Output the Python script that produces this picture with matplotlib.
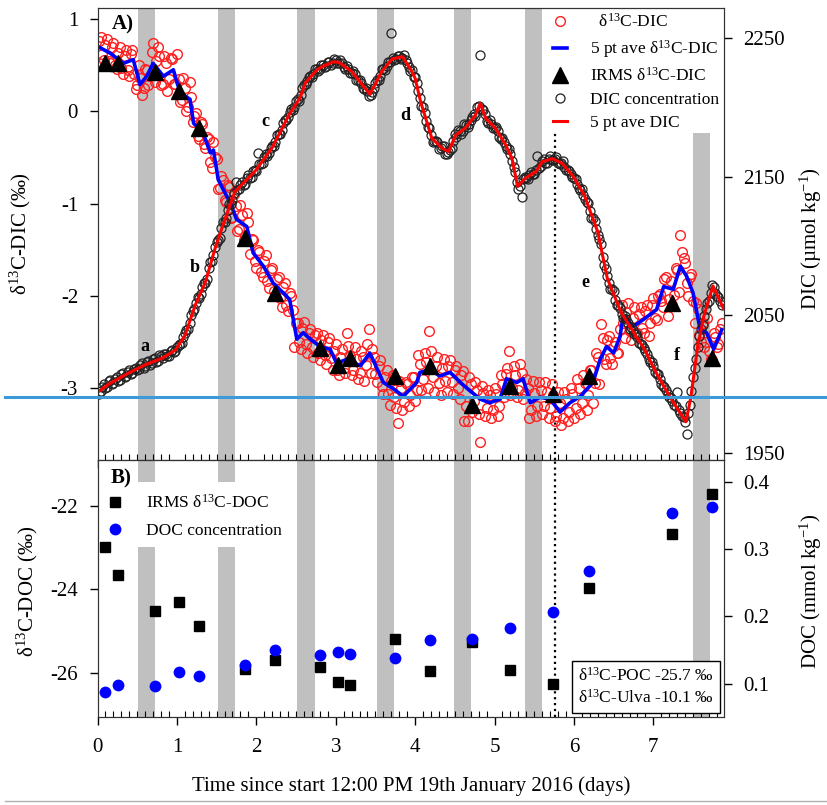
import numpy as np
import matplotlib
matplotlib.use("Agg")
import matplotlib.pyplot as plt
from matplotlib.lines import Line2D
from matplotlib.ticker import MultipleLocator

plt.rcParams["font.family"] = "Liberation Serif"
plt.rcParams["mathtext.fontset"] = "custom"
plt.rcParams["mathtext.rm"] = "Liberation Serif"
plt.rcParams["mathtext.it"] = "Liberation Serif:italic"
plt.rcParams["mathtext.bf"] = "Liberation Serif:bold"
plt.rcParams["axes.unicode_minus"] = False
plt.rcParams["axes.edgecolor"] = "#333333"

# night periods (days since start)
night_start = [0.506, 1.515, 2.517, 3.52, 4.494, 5.384, 7.504]
night_end = [0.724, 1.732, 2.739, 3.738, 4.704, 5.594, 7.714]
t_sample = 5.755

# continuous sensor record: readings at 0.02, 0.06, 0.10 ... d
dic_conc = [1993, 1998, 1997, 2002, 2000, 2004, 2002, 2007, 2005, 2009,
            2007, 2011, 2010, 2014, 2012, 2016, 2014, 2018, 2016, 2021,
            2019, 2022, 2020, 2025, 2024, 2028, 2030, 2037, 2040, 2050,
            2054, 2063, 2065, 2073, 2076, 2088, 2093, 2103, 2106, 2117,
            2120, 2130, 2133, 2146, 2141, 2146, 2145, 2151, 2150, 2155,
            2167, 2159, 2164, 2165, 2171, 2172, 2180, 2181, 2189, 2191,
            2197, 2198, 2205, 2205, 2214, 2217, 2222, 2222, 2228, 2226,
            2231, 2229, 2233, 2231, 2235, 2232, 2234, 2229, 2230, 2225,
            2226, 2220, 2220, 2214, 2214, 2208, 2211, 2218, 2220, 2228,
            2227, 2233, 2254, 2234, 2237, 2235, 2238, 2232, 2226, 2222,
            2218, 2207, 2200, 2190, 2185, 2175, 2176, 2170, 2172, 2166,
            2168, 2171, 2181, 2184, 2181, 2188, 2186, 2191, 2195, 2200,
            2238, 2198, 2190, 2191, 2185, 2186, 2179, 2178, 2172, 2170,
            2161, 2153, 2141, 2135, 2150, 2148, 2153, 2152, 2165, 2158,
            2163, 2160, 2165, 2162, 2164, 2159, 2161, 2155, 2154, 2150,
            2148, 2142, 2141, 2134, 2131, 2120, 2118, 2108, 2101, 2086,
            2078, 2069, 2067, 2057, 2055, 2048, 2047, 2040, 2039, 2036,
            2030, 2028, 2024, 2018, 2016, 2009, 2007, 2000, 1998, 1993,
            1990, 1985, 1994, 1979, 1976, 1964, 1985, 2005, 2018, 2035,
            2043, 2054, 2060, 2072, 2066, 2063, 2057]

d13c_dic = [0.76, 0.62, 0.72, 0.55, 0.70, 0.50, 0.63, 0.47, 0.60, 0.45,
            0.62, 0.40, 0.28, 0.36, 0.25, 0.45, 0.38, 0.74, 0.55, 0.60,
            0.30, 0.52, 0.35, 0.57, 0.30, 0.35, 0.12, 0.25, 0.05, 0.15,
            -0.05, -0.27, -0.12, -0.36, -0.28, -0.55, -0.33, -0.52, -0.83, -0.75,
            -0.98, -0.82, -1.15, -1.03, -1.28, -1.12, -1.35, -1.20, -1.38, -1.62,
            -1.50, -1.74, -1.62, -1.84, -1.72, -1.95, -1.82, -2.02, -1.90, -2.10,
            -1.97, -2.15, -2.30, -2.50, -2.35, -2.52, -2.40, -2.56, -2.43, -2.62,
            -2.48, -2.64, -2.50, -2.67, -2.60, -2.80, -2.66, -2.78, -2.40, -2.65,
            -2.80, -2.68, -2.84, -2.66, -2.75, -2.36, -2.58, -2.85, -2.76, -2.98,
            -2.88, -3.06, -2.92, -3.10, -3.38, -3.00, -3.15, -2.96, -3.08, -2.88,
            -3.02, -2.74, -2.90, -2.72, -2.38, -2.88, -2.76, -2.95, -2.78, -2.92,
            -2.76, -2.94, -2.80, -3.00, -2.86, -3.36, -3.36, -2.96, -3.14, -3.02,
            -3.59, -3.05, -3.22, -3.08, -3.24, -3.06, -3.20, -2.96, -2.85, -2.60,
            -3.00, -2.86, -3.02, -2.84, -3.05, -3.00, -3.24, -3.05, -3.20, -3.02,
            -3.20, -3.04, -3.22, -3.08, -3.30, -3.16, -3.32, -3.12, -3.26, -3.06,
            -3.22, -3.00, -3.16, -2.95, -3.08, -2.80, -2.95, -2.66, -2.31, -2.68,
            -2.48, -2.67, -2.54, -2.62, -2.36, -2.30, -2.18, -2.38, -2.24, -2.40,
            -2.20, -2.35, -2.16, -2.44, -2.10, -2.24, -2.00, -2.06, -1.82, -2.22,
            -1.84, -1.99, -1.72, -1.34, -1.59, -1.86, -1.80, -2.06, -2.08, -2.42,
            -2.30, -2.50, -2.60, -2.70, -2.45, -2.52, -2.30]

# interleaved readings at 0.04, 0.08, 0.12 ... d
dic_conc_2 = [1995, 2000, 1998, 2003, 2001, 2005, 2003, 2008, 2006, 2010,
              2008, 2012, 2011, 2015, 2013, 2017, 2015, 2019, 2017, 2020,
              2022, 2020, 2024, 2023, 2027, 2029, 2034, 2039, 2044, 2053,
              2059, 2062, 2070, 2073, 2084, 2089, 2099, 2104, 2113, 2117,
              2126, 2130, 2138, 2140, 2144, 2144, 2149, 2149, 2154, 2154,
              2159, 2160, 2166, 2167, 2172, 2175, 2181, 2184, 2191, 2193,
              2199, 2200, 2206, 2209, 2216, 2219, 2223, 2224, 2228, 2228,
              2231, 2230, 2233, 2232, 2234, 2232, 2232, 2228, 2228, 2225,
              2224, 2220, 2218, 2213, 2212, 2209, 2214, 2220, 2223, 2228,
              2230, 2233, 2236, 2235, 2237, 2236, 2234, 2229, 2227, 2222,
              2212, 2201, 2196, 2186, 2180, 2176, 2175, 2171, 2172, 2166,
              2169, 2176, 2179, 2183, 2183, 2187, 2188, 2193, 2194, 2201,
              2199, 2195, 2189, 2188, 2185, 2183, 2177, 2175, 2170, 2166,
              2157, 2146, 2143, 2148, 2149, 2151, 2152, 2155, 2156, 2161,
              2160, 2163, 2162, 2163, 2160, 2160, 2157, 2155, 2152, 2149,
              2145, 2140, 2137, 2132, 2125, 2120, 2112, 2105, 2092, 2083,
              2073, 2069, 2061, 2057, 2051, 2049, 2044, 2041, 2036, 2034,
              2029, 2026, 2022, 2016, 2013, 2007, 2004, 1999, 1996, 1991,
              1988, 1984, 1981, 1977, 1973, 1979, 1995, 2012, 2027, 2040,
              2049, 2059, 2066, 2070, 2064, 2060]

d13c_dic_2 = [0.80, 0.56, 0.78, 0.52, 0.74, 0.46, 0.70, 0.40, 0.66, 0.38,
              0.66, 0.24, 0.50, 0.18, 0.46, 0.28, 0.64, 0.32, 0.70, 0.28,
              0.60, 0.22, 0.58, 0.30, 0.62, 0.10, 0.36, 0.00, 0.32, -0.12,
              -0.02, -0.30, -0.14, -0.40, -0.30, -0.62, -0.50, -0.84, -0.70, -0.96,
              -0.80, -1.16, -0.90, -1.30, -1.02, -1.40, -1.10, -1.55, -1.40, -1.70,
              -1.52, -1.80, -1.56, -1.92, -1.70, -2.00, -1.80, -2.12, -1.86, -2.16,
              -2.00, -2.55, -2.30, -2.58, -2.28, -2.62, -2.36, -2.66, -2.40, -2.70,
              -2.42, -2.74, -2.46, -2.80, -2.52, -2.86, -2.58, -2.84, -2.54, -2.86,
              -2.56, -2.90, -2.60, -2.92, -2.52, -2.84, -2.66, -2.94, -2.70, -3.06,
              -2.80, -3.18, -2.86, -3.22, -2.92, -3.24, -2.94, -3.20, -2.88, -3.14,
              -2.64, -3.02, -2.62, -3.00, -2.60, -3.04, -2.66, -3.08, -2.68, -3.04,
              -2.70, -3.06, -2.76, -3.12, -2.82, -3.20, -2.88, -3.26, -2.94, -3.28,
              -2.98, -3.30, -3.02, -3.32, -3.00, -3.30, -2.86, -3.10, -2.78, -3.08,
              -2.76, -3.10, -2.74, -3.12, -2.90, -3.32, -2.92, -3.30, -2.94, -3.28,
              -2.94, -3.32, -2.96, -3.36, -3.04, -3.40, -3.04, -3.36, -3.00, -3.32,
              -2.90, -3.28, -2.86, -3.24, -2.80, -3.16, -2.62, -2.96, -2.46, -2.74,
              -2.44, -2.74, -2.50, -2.62, -2.10, -2.46, -2.08, -2.48, -2.12, -2.40,
              -2.12, -2.40, -2.10, -2.30, -2.02, -2.26, -1.98, -2.12, -1.80, -2.04,
              -2.10, -1.70, -1.96, -1.52, -1.64, -2.00, -1.76, -2.30, -2.14, -2.50,
              -2.56, -2.24, -2.68, -2.40, -2.56, -2.36]

t_dic = np.concatenate([0.02 + 0.04 * np.arange(len(dic_conc)),
                        0.04 + 0.04 * np.arange(len(dic_conc_2))])
dic_all = np.concatenate([dic_conc, dic_conc_2])
d13c_all = np.concatenate([d13c_dic, d13c_dic_2])

# 5 point running averages
t_d13c_ave = [0.03, 0.16, 0.325, 0.45, 0.535, 0.62, 0.70, 0.83, 0.955, 1.04,
              1.165, 1.21, 1.33, 1.42, 1.46, 1.52, 1.585, 1.67, 1.75, 1.88,
              1.96, 2.09, 2.21, 2.34, 2.42, 2.51, 2.59, 2.68, 2.80, 2.93,
              3.01, 3.14, 3.31, 3.43, 3.60, 3.73, 3.85, 4.02, 4.06, 4.19,
              4.31, 4.44, 4.57, 4.69, 4.82, 4.94, 5.07, 5.15, 5.28, 5.36,
              5.45, 5.57, 5.70, 5.825, 5.95, 6.08, 6.24, 6.33, 6.41, 6.50,
              6.58, 6.62, 6.75, 6.87, 7.04, 7.13, 7.25, 7.34, 7.42, 7.50,
              7.59, 7.67, 7.76, 7.86]
d13c_ave = [0.69, 0.63, 0.52, 0.56, 0.29, 0.38, 0.52, 0.38, 0.45, 0.20,
            0.13, -0.13, -0.235, -0.45, -0.42, -0.74, -0.85, -0.99, -1.17, -1.25,
            -1.535, -1.68, -1.86, -1.97, -2.04, -2.47, -2.40, -2.47, -2.55, -2.58,
            -2.73, -2.69, -2.76, -2.62, -2.94, -3.01, -3.09, -2.94, -2.83, -2.80,
            -2.87, -2.83, -2.94, -3.03, -3.12, -3.16, -3.12, -2.90, -2.94, -2.90,
            -3.16, -3.10, -3.12, -3.26, -3.16, -3.09, -2.94, -2.69, -2.55, -2.62,
            -2.44, -2.22, -2.33, -2.26, -2.15, -1.90, -1.93, -1.68, -1.79, -1.97,
            -2.37, -2.40, -2.58, -2.37]

t_dic_ave = [0.0, 0.14, 0.39, 0.60, 0.81, 0.98, 1.10, 1.23, 1.36, 1.48,
             1.61, 1.73, 1.90, 2.00, 2.20, 2.41, 2.55, 2.62, 2.76, 2.83,
             2.97, 3.04, 3.20, 3.43, 3.58, 3.71, 3.84, 3.96, 4.00, 4.07,
             4.21, 4.34, 4.42, 4.51, 4.63, 4.76, 4.82, 4.89, 5.01, 5.14,
             5.22, 5.29, 5.39, 5.52, 5.60, 5.73, 5.85, 5.98, 6.13, 6.30,
             6.42, 6.59, 6.72, 6.88, 7.05, 7.22, 7.30, 7.41, 7.47, 7.56,
             7.64, 7.75, 7.88]
dic_ave = [1994, 2000, 2008, 2014, 2018.6, 2024.6, 2035, 2057, 2074, 2098,
           2120, 2139, 2149, 2155, 2171, 2194.5, 2207, 2218, 2227, 2229.5,
           2233, 2232.6, 2226, 2209.5, 2226, 2235, 2236.7, 2226, 2221, 2204,
           2177.7, 2170.5, 2168, 2180, 2185, 2194.5, 2203, 2192, 2185, 2173,
           2163, 2143, 2149, 2153.5, 2160.8, 2163, 2159.6, 2151, 2136.7, 2110,
           2076.5, 2052.3, 2040.3, 2026, 2006.7, 1989.7, 1982.5, 1972.8, 1989.7, 2028,
           2050, 2071, 2055]

# discrete bottle samples
t_irms = [0.10, 0.26, 0.72, 1.02, 1.28, 1.86, 2.24, 2.80, 3.03, 3.18,
          3.75, 4.19, 4.71, 5.20, 5.74, 6.19, 7.23, 7.74]
d13c_dic_irms = [0.52, 0.52, 0.43, 0.22, -0.18, -1.37, -1.97, -2.57, -2.75, -2.67,
                 -2.87, -2.76, -3.18, -2.98, -3.07, -2.87, -2.08, -2.67]
d13c_doc = [-22.98, -23.66, -24.52, -24.31, -24.88, -25.92, -25.70, -25.86, -26.24, -26.30,
            -25.19, -25.97, -25.26, -25.94, -26.28, -23.98, -22.68, -21.71]
doc_conc = [0.088, 0.098, 0.097, 0.117, 0.112, 0.128, 0.151, 0.143, 0.148, 0.145,
            0.139, 0.165, 0.167, 0.183, 0.207, 0.268, 0.354, 0.363]

shade = "#c0c0c0"

fig = plt.figure(figsize=(8.27, 8.05), dpi=100)
axA = fig.add_axes([0.1179, 0.4286, 0.7576, 0.5615])
axB = fig.add_axes([0.1179, 0.1093, 0.7576, 0.3193])
axA2 = axA.twinx()
axB2 = axB.twinx()

yA = (-3.78, 1.12)
yB = (-27.07, -20.89)

# ---- panel A ----
for i, (x0, x1) in enumerate(zip(night_start, night_end)):
    top = -0.23 if i == 6 else yA[1]
    axA.fill_between([x0, x1], yA[0], top, color=shade, lw=0, zorder=0)
axA.plot([t_sample, t_sample], [yA[0], -0.22], ls=":", color="black", lw=1.6, zorder=1)

h1, = axA.plot(t_dic, d13c_all, "o", ms=7, mfc="none", mec="#ff2020", mew=1.0, zorder=2)
h2, = axA.plot(t_d13c_ave, d13c_ave, color="#0000ff", lw=2.6, zorder=3)
h3, = axA.plot(t_irms, d13c_dic_irms, "^", ms=11, color="black", zorder=4)
h4, = axA2.plot(t_dic, dic_all, "o", ms=6.5, mfc="none", mec="#222222", mew=0.9)
h5, = axA2.plot(t_dic_ave, dic_ave, color="#ff0000", lw=2.2)

axA.set_ylim(*yA)
axA2.set_ylim(1945.2, 2271.9)
axA.set_yticks([-3, -2, -1, 0, 1])
axA2.set_yticks([1950, 2050, 2150, 2250])

axA.text(0.32, 0.94, "A)", fontsize=15, fontweight="bold", ha="center", va="center")
for lab, x, y in [("a", 0.60, -2.55), ("b", 1.23, -1.69), ("c", 2.11, -0.11),
                  ("d", 3.87, -0.05), ("e", 6.14, -1.86), ("f", 7.29, -2.65)]:
    axA.text(x, y, lab, fontsize=13, fontweight="bold", ha="center", va="center")

axA2.legend([h1, h2, h3, h4, h5],
            ["  δ$^{13}$C-DIC", "5 pt ave δ$^{13}$C-DIC", "IRMS δ$^{13}$C-DIC",
             "DIC concentration", "5 pt ave DIC"],
            loc="upper right", frameon=False, fontsize=12.5, handlelength=0.8,
            handletextpad=1.3, labelspacing=0.4, borderaxespad=0.2, borderpad=0.1,
            numpoints=1)

axA.set_ylabel("δ$^{13}$C-DIC (‰)", fontsize=15)
axA.yaxis.set_label_coords(-0.103, 0.5)
axA2.set_ylabel("DIC (µmol kg$^{-1}$)", fontsize=15)
axA2.yaxis.set_label_coords(1.118, 0.49)

# ---- panel B ----
for i, (x0, x1) in enumerate(zip(night_start, night_end)):
    if i < 2:
        axB.fill_between([x0, x1], -21.42, yB[1], color=shade, lw=0, zorder=0)
        axB.fill_between([x0, x1], yB[0], -22.98, color=shade, lw=0, zorder=0)
    else:
        axB.fill_between([x0, x1], yB[0], yB[1], color=shade, lw=0, zorder=0)
axB.plot([t_sample, t_sample], list(yB), ls=":", color="black", lw=1.6, zorder=1)

g1, = axB.plot(t_irms, d13c_doc, "s", ms=7.5, color="black", zorder=3)
g2, = axB2.plot(t_irms, doc_conc, "o", ms=8.5, color="#0000ff", mec="none")

axB.set_ylim(*yB)
axB2.set_ylim(0.051, 0.432)
axB.set_yticks([-26, -24, -22])
axB2.set_yticks([0.1, 0.2, 0.3, 0.4])

axB.text(0.30, -21.33, "B)", fontsize=15, fontweight="bold", ha="center", va="center")
axB2.legend([g1, g2], ["IRMS δ$^{13}$C-DOC", "DOC concentration"],
            loc="upper left", bbox_to_anchor=(0.014, 0.875), frameon=False,
            fontsize=12.5, handlelength=0.8, handletextpad=1.4, labelspacing=0.65,
            borderaxespad=0, borderpad=0.1, numpoints=1)
axB2.text(0.984, 0.04, "δ$^{13}$C-POC -25.7 ‰\nδ$^{13}$C-Ulva -10.1 ‰",
          transform=axB2.transAxes, ha="right", va="bottom", fontsize=12.5,
          linespacing=1.3, zorder=10,
          bbox=dict(boxstyle="square,pad=0.35", fc="white", ec="black", lw=1))

axB.set_ylabel("δ$^{13}$C-DOC (‰)", fontsize=15)
axB.yaxis.set_label_coords(-0.092, 0.49)
axB2.set_ylabel("DOC (mmol kg$^{-1}$)", fontsize=15)
axB2.yaxis.set_label_coords(1.117, 0.49)
axB.set_xlabel("Time since start 12:00 PM 19th January 2016 (days)", fontsize=15, labelpad=14)

# ---- shared axis styling ----
for ax in (axA, axB):
    ax.set_xlim(0, 7.89)
    ax.xaxis.set_major_locator(MultipleLocator(1))
    ax.xaxis.set_minor_locator(MultipleLocator(0.1))
    ax.tick_params(axis="x", which="major", direction="out", length=6, width=1, pad=9, labelsize=15)
    ax.tick_params(axis="x", which="minor", direction="in", length=4, width=0.8)
    ax.tick_params(axis="y", direction="out", length=6, width=1, pad=8, labelsize=15)
axA.tick_params(axis="x", labelbottom=False)
for ax in (axA2, axB2):
    ax.tick_params(axis="y", direction="out", length=6, width=1, pad=8, labelsize=15)

# stray rules across the page
fig.add_artist(Line2D([0.006, 1.0], [0.5068, 0.5068], transform=fig.transFigure,
                      color="#3d9ad6", lw=2.2, zorder=20))
fig.add_artist(Line2D([0.006, 1.0], [0.005, 0.005], transform=fig.transFigure,
                      color="#b0b0b0", lw=1.0))

fig.savefig("out.png", dpi=100)
